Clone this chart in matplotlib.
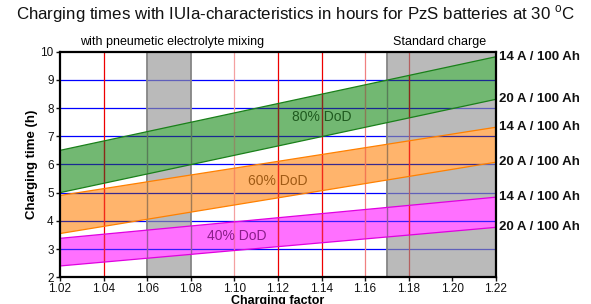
import matplotlib
matplotlib.use("Agg")
import matplotlib.pyplot as plt
from matplotlib.patches import Polygon
from matplotlib.colors import to_rgb
import numpy as np

plt.rcParams['font.family'] = ['Liberation Sans', 'DejaVu Sans']

x_ends = [1.02, 1.22]
dod80_14 = [6.5, 9.82]
dod80_20 = [5.0, 8.31]
dod60_14 = [4.9, 7.32]
dod60_20 = [3.55, 6.08]
dod40_14 = [3.38, 4.84]
dod40_20 = [2.4, 3.77]
band_labels = ["80% DoD", "60% DoD", "40% DoD"]
band_label_pos = [(1.14, 7.68), (1.12, 5.41), (1.101, 3.46)]
right_labels = ["14 A / 100 Ah", "20 A / 100 Ah"]
xticks = [1.02, 1.04, 1.06, 1.08, 1.10, 1.12, 1.14, 1.16, 1.18, 1.20, 1.22]
yticks = [2, 3, 4, 5, 6, 7, 8, 9, 10]
red_lines = [1.04, 1.10, 1.12, 1.14, 1.16, 1.18]
red_colors = ['#ee0000', '#f4a0a0', '#ee0000', '#ee0000', '#f08080', '#ee0000']
blue_lines = [3, 4, 5, 6, 7, 8, 9]
gray_bands = [(1.06, 1.08), (1.17, 1.22)]

fig = plt.figure(figsize=(5.91, 3.04), dpi=100)
ax = fig.add_axes([0.1015, 0.088, 0.7375, 0.742])
ax.set_xlim(1.02, 1.22)
ax.set_ylim(2, 10)

line_specs = []
for y in blue_lines:
    ax.axhline(y, color='#0000ff', lw=0.9, zorder=1)
    line_specs.append(('h', y, '#0000ff'))
for xv, c in zip(red_lines, red_colors):
    ax.axvline(xv, color=c, lw=0.9, zorder=1)
    line_specs.append(('v', xv, c))
for a, b in gray_bands:
    ax.axvspan(a, b, facecolor=(0.585, 0.585, 0.585), alpha=0.65, zorder=2, lw=0)
    for e in (a, b):
        if e < 1.22:
            ax.axvline(e, color='#858585', lw=1.3, zorder=2)
            line_specs.append(('v', e, '#858585'))

bands = [
    (dod80_14, dod80_20, '#72b872', '#1a801a', '#1f5a1f'),
    (dod60_14, dod60_20, '#ffb46c', '#ff8000', '#a05a14'),
    (dod40_14, dod40_20, '#ff70ff', '#e000e0', '#8a1e8a'),
]

def blend(lc, fc):
    l = np.array(to_rgb(lc)); f = np.array(to_rgb(fc))
    return tuple(0.55 * (l * f) + 0.45 * (0.5 * l + 0.5 * f))

xs = np.array(x_ends)
for (top, bot, fc, ec, tc), lab, pos in zip(bands, band_labels, band_label_pos):
    ax.fill_between(xs, bot, top, facecolor=fc, lw=0, zorder=3)
    poly = Polygon([(xs[0], bot[0]), (xs[1], bot[1]), (xs[1], top[1]), (xs[0], top[0])],
                   closed=True, transform=ax.transData, fill=False, lw=0, visible=False)
    ax.add_patch(poly)
    for kind, v, lc in line_specs:
        if kind == 'h':
            ln = ax.axhline(v, color=blend(lc, fc), lw=0.9, zorder=3.5)
        else:
            ln = ax.axvline(v, color=blend(lc, fc), lw=1.0, zorder=3.5)
        ln.set_clip_path(poly)
    ax.plot(xs, top, color=ec, lw=0.9, zorder=4)
    ax.plot(xs, bot, color=ec, lw=0.9, zorder=4)
    ax.text(pos[0], pos[1], lab, ha='center', va='center', fontsize=10, color=tc, zorder=5)
    for val, rl in zip([top[1], bot[1]], right_labels):
        ax.text(1.2213, val, rl, ha='left', va='center', fontsize=9.5, fontweight='bold',
                color='#111111', clip_on=False)

ax.set_xticks(xticks)
ax.set_xticklabels([f"{v:.2f}" for v in xticks])
ax.set_yticks(yticks)
ax.tick_params(axis='both', labelsize=8.5, length=3, width=1, colors='#111111', pad=1.5)
for s in ax.spines.values():
    s.set_linewidth(1.6)
    s.set_zorder(6)

ax.set_xlabel("Charging factor", fontsize=9, fontweight='bold', labelpad=0)
ax.set_ylabel("Charging time (h)", fontsize=9.5, fontweight='bold', labelpad=2)

fig.text(0.5, 0.953, "Charging times with IUIa-characteristics in hours for PzS batteries at 30 $^{\\mathregular{o}}$C",
         ha='center', va='center', fontsize=12.2, color='#111111')
ax.text(1.0714, 10.12, "with pneumetic electrolyte mixing", ha='center', va='bottom', fontsize=9)
ax.text(1.194, 10.12, "Standard charge", ha='center', va='bottom', fontsize=9)

fig.savefig("out.png", dpi=100)
